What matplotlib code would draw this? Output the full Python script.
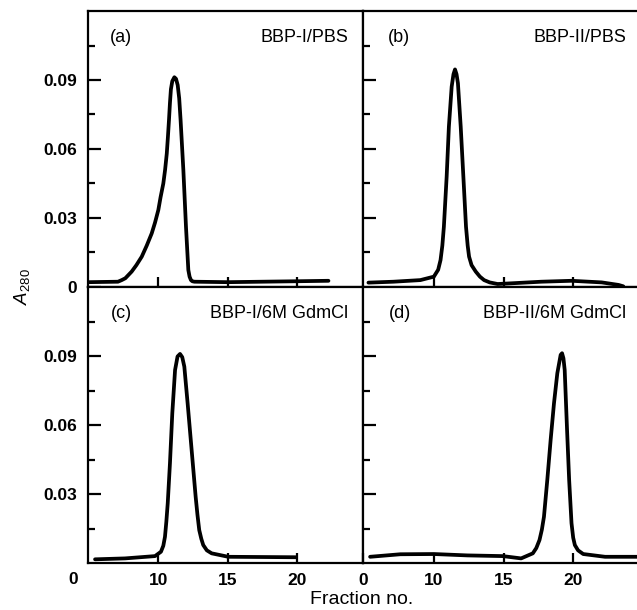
import matplotlib
matplotlib.use("Agg")
import matplotlib.pyplot as plt

plt.rcParams['font.family'] = ['Liberation Sans', 'DejaVu Sans']
plt.rcParams['mathtext.fontset'] = 'custom'
plt.rcParams['mathtext.rm'] = 'Liberation Sans'
plt.rcParams['mathtext.it'] = 'Liberation Sans:italic'

# (a) BBP-I / PBS
frac_a = [4.95, 6.0, 7.07, 7.34, 7.6, 8.06, 8.4, 8.79, 9.15, 9.51, 9.75, 9.99, 10.15,
          10.35, 10.48, 10.6, 10.68, 10.76, 10.83, 10.9, 11.0, 11.15, 11.27, 11.39,
          11.5, 11.6, 11.8, 11.99, 12.16, 12.25, 12.35, 12.45, 12.6, 15.0, 20.0, 22.3]
abs_a = [0.0021, 0.0022, 0.0023, 0.003, 0.0038, 0.0067, 0.0095, 0.0132, 0.018, 0.0233,
         0.028, 0.0335, 0.039, 0.045, 0.051, 0.058, 0.065, 0.0726, 0.080, 0.086,
         0.0895, 0.0912, 0.0905, 0.0878, 0.082, 0.0726, 0.0509, 0.0262, 0.0074,
         0.0045, 0.003, 0.0025, 0.0023, 0.0021, 0.0025, 0.0027]

# (b) BBP-II / PBS
frac_b = [5.29, 7.09, 9.02, 9.99, 10.3, 10.47, 10.6, 10.71, 10.91, 11.07, 11.27, 11.4,
          11.51, 11.62, 11.72, 11.92, 12.11, 12.3, 12.42, 12.52, 12.7, 13.0, 13.3,
          13.6, 14.0, 14.57, 15.54, 17.71, 19.88, 22.05, 23.26, 23.6]
abs_b = [0.0019, 0.0023, 0.003, 0.0045, 0.0075, 0.0117, 0.018, 0.0262, 0.048, 0.0697,
         0.0871, 0.0925, 0.0946, 0.0925, 0.0886, 0.0697, 0.048, 0.0262, 0.018, 0.0132,
         0.0095, 0.0067, 0.0045, 0.003, 0.002, 0.0013, 0.0016, 0.0023, 0.0027, 0.002,
         0.0009, 0.0003]

# (c) BBP-I / 6M GdmCl
frac_c = [5.41, 7.58, 9.75, 10.18, 10.35, 10.47, 10.57, 10.67, 10.83, 11.0, 11.2, 11.38,
          11.56, 11.72, 11.87, 12.11, 12.4, 12.69, 12.82, 12.95, 13.1, 13.24, 13.5,
          13.85, 14.81, 15.05, 19.95]
abs_c = [0.0016, 0.002, 0.003, 0.0049, 0.0075, 0.0114, 0.018, 0.026, 0.0433, 0.0651,
         0.0839, 0.0898, 0.0909, 0.0895, 0.0854, 0.0694, 0.0491, 0.0288, 0.021, 0.0143,
         0.0105, 0.0078, 0.0055, 0.0042, 0.003, 0.0027, 0.0025]

# (d) BBP-II / 6M GdmCl
frac_d = [5.41, 7.58, 9.99, 12.4, 14.94, 16.26, 17.1, 17.35, 17.58, 17.75, 17.9, 18.14,
          18.38, 18.62, 18.86, 19.1, 19.2, 19.3, 19.39, 19.56, 19.71, 19.88, 20.0,
          20.12, 20.35, 20.72, 22.29, 24.71]
abs_d = [0.0027, 0.0038, 0.0039, 0.0033, 0.003, 0.002, 0.0042, 0.0065, 0.01, 0.0145,
         0.0201, 0.0361, 0.0535, 0.0694, 0.0825, 0.0905, 0.0912, 0.089, 0.0839, 0.0578,
         0.0361, 0.0173, 0.011, 0.0078, 0.0055, 0.0039, 0.0027, 0.0027]

panel_tags = ['(a)', '(b)', '(c)', '(d)']
panel_names = ['BBP-I/PBS', 'BBP-II/PBS', 'BBP-I/6M GdmCl', 'BBP-II/6M GdmCl']
ytick_vals = [0.03, 0.06, 0.09]
ytick_text = ['0.03', '0.06', '0.09']
yminor_vals = [0.015, 0.045, 0.075, 0.105]
xtick_vals = [10, 15, 20]
xtick_text = ['10', '15', '20']

X0, X1 = 4.9, 24.8
FS = 12.5


def style_axes(ax, left_col, bottom_row):
    ax.set_xlim(X0, X1)
    ax.set_ylim(0, 0.12)
    for side in ['left', 'top', 'bottom', 'right']:
        ax.spines[side].set_linewidth(1.6)
    if not left_col:
        ax.spines['right'].set_visible(False)
    ax.tick_params(direction='in', width=1.6, labelsize=FS)
    ax.tick_params(axis='y', which='major', length=9, pad=8)
    ax.tick_params(axis='y', which='minor', length=5, width=1.6, direction='in')
    ax.tick_params(axis='x', which='major', length=7, pad=7)
    ax.tick_params(top=False, right=False)

    yt = list(ytick_vals)
    ytl = list(ytick_text)
    if left_col and not bottom_row:
        yt = [0] + yt
        ytl = ['0'] + ytl
    ax.set_yticks(yt)
    ax.set_yticks(yminor_vals, minor=True)
    if left_col:
        ax.set_yticklabels(ytl, fontweight='bold')
    else:
        ax.set_yticklabels([])

    xt = list(xtick_vals)
    xtl = list(xtick_text)
    if bottom_row and not left_col:
        xt = [X0] + xt
        xtl = ['0'] + xtl
    ax.set_xticks(xt)
    if bottom_row:
        ax.set_xticklabels(xtl, fontweight='bold')
    else:
        ax.set_xticklabels([])


fig = plt.figure(figsize=(6.37, 6.10), dpi=100)
W, H = 637.0, 610.0
left_x, mid_x, right_x = 88, 363, 640
top_y, mid_y, bot_y = 11, 287, 563

boxes = [
    (left_x, top_y, mid_x, mid_y),
    (mid_x, top_y, right_x, mid_y),
    (left_x, mid_y, mid_x, bot_y),
    (mid_x, mid_y, right_x, bot_y),
]
data = [(frac_a, abs_a), (frac_b, abs_b), (frac_c, abs_c), (frac_d, abs_d)]
tag_x = [0.08, 0.09, 0.085, 0.095]

for i, (x0, y0, x1, y1) in enumerate(boxes):
    ax = fig.add_axes([x0 / W, 1 - y1 / H, (x1 - x0) / W, (y1 - y0) / H])
    fx, fy = data[i]
    ax.plot(fx, fy, color='black', lw=2.7, solid_joinstyle='round',
            solid_capstyle='round')
    style_axes(ax, left_col=(i % 2 == 0), bottom_row=(i >= 2))
    name_x = 0.945 if i % 2 == 0 else 0.95
    ax.text(tag_x[i], 0.905, panel_tags[i], transform=ax.transAxes,
            fontsize=13, va='center', ha='left')
    ax.text(name_x, 0.905, panel_names[i], transform=ax.transAxes,
            fontsize=13, va='center', ha='right')

# origin label of the lower-left panel sits below the axis
fig.text(78 / W, 1 - 579 / H, '0', fontsize=FS, fontweight='bold',
         ha='right', va='center')
fig.text(22 / W, 1 - 287 / H, r'$A_{280}$', fontsize=FS + 1, rotation=90,
         ha='center', va='center')
fig.text(362 / W, 1 - 600 / H, 'Fraction no.', fontsize=14,
         ha='center', va='center')

fig.savefig('out.png', dpi=100)
